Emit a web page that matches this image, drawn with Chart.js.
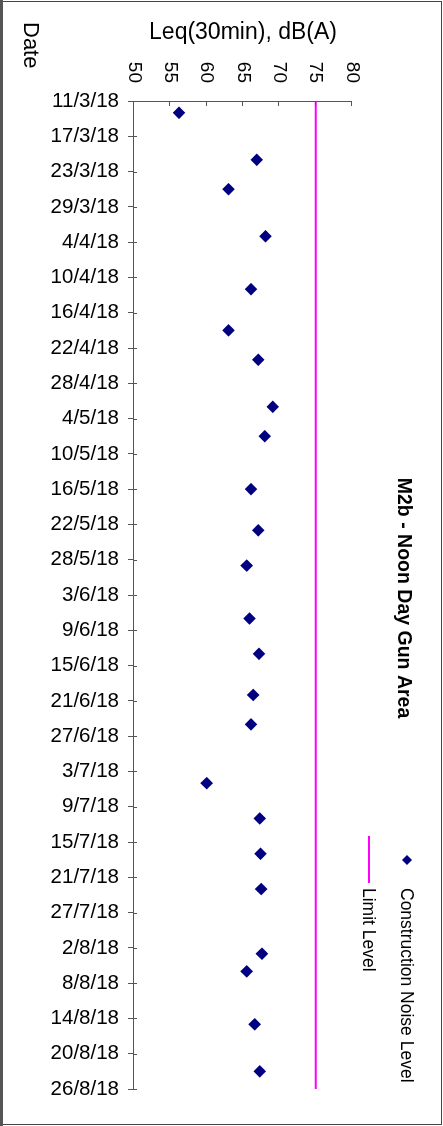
<!DOCTYPE html>
<html>
<head>
<meta charset="utf-8">
<script src="https://cdn.jsdelivr.net/npm/chart.js@4.4.1/dist/chart.umd.min.js"></script>
<style>
  html, body { margin: 0; padding: 0; background: #fff; overflow: hidden; }
  /* chart is drawn landscape, then turned a quarter clockwise */
  #wrap {
    position: absolute; left: 0; top: 0;
    width: 1126px; height: 443px;
    transform-origin: 0 0;
    transform: translate(443px, 0) rotate(90deg);
  }
</style>
</head>
<body>
<div id="wrap"><canvas id="chart" width="1126" height="443"></canvas></div>
<script>
// DATA
const dateTicks = ["11/3/18", "17/3/18", "23/3/18", "29/3/18", "4/4/18", "10/4/18", "16/4/18",
    "22/4/18", "28/4/18", "4/5/18", "10/5/18", "16/5/18", "22/5/18", "28/5/18", "3/6/18",
    "9/6/18", "15/6/18", "21/6/18", "27/6/18", "3/7/18", "9/7/18", "15/7/18", "21/7/18",
    "27/7/18", "2/8/18", "8/8/18", "14/8/18", "20/8/18", "26/8/18"];
const valueTicks = [50, 55, 60, 65, 70, 75, 80];

const noiseDates = ["13/3/18", "21/3/18", "26/3/18", "3/4/18", "12/4/18", "19/4/18", "24/4/18",
    "2/5/18", "7/5/18", "16/5/18", "23/5/18", "29/5/18", "7/6/18", "13/6/18", "20/6/18",
    "25/6/18", "5/7/18", "11/7/18", "17/7/18", "23/7/18", "3/8/18", "6/8/18", "15/8/18", "23/8/18"];
const noiseLevels = [56.2, 66.9, 63.0, 68.1, 66.1, 63.0, 67.1, 69.1, 68.0, 66.1, 67.1, 65.5,
    65.9, 67.2, 66.4, 66.1, 60.0, 67.3, 67.4, 67.5, 67.6, 65.5, 66.6, 67.3];
const limitLevel = 75;

const FONT = "'Liberation Sans', Arial, sans-serif";

// day offset from the first tick date
function dayNum(s) {
    const [d, m, y] = s.split("/").map(Number);
    return Date.UTC(2000 + y, m - 1, d) / 86400000;
}
const day0 = dayNum(dateTicks[0]);
const lastDay = dayNum(dateTicks[dateTicks.length - 1]) - day0;

const noisePoints = noiseDates.map((s, i) => ({ x: dayNum(s) - day0, y: noiseLevels[i] }));
const limitPoints = [{ x: 0, y: limitLevel }, { x: lastDay, y: limitLevel }];

// PLUGIN: frame, inward tick marks, title, legend, "Date"
const extras = {
    id: "extras",
    beforeDraw(chart) {
        const ctx = chart.ctx;
        ctx.save();
        ctx.fillStyle = "#fff";
        ctx.fillRect(0, 0, chart.width, chart.height);
        ctx.restore();
    },
    afterDraw(chart) {
        const ctx = chart.ctx;
        const xs = chart.scales.x;
        const ys = chart.scales.y;
        const area = chart.chartArea;
        ctx.save();

        // frame
        ctx.strokeStyle = "#444";
        ctx.lineWidth = 1;
        ctx.strokeRect(1.5, 1.5, chart.width - 3, chart.height - 4);
        ctx.fillStyle = "#555";
        ctx.fillRect(0, chart.height - 3, chart.width, 3);

        // small inward parts of tick marks
        ctx.strokeStyle = "#555";
        ctx.beginPath();
        xs.ticks.forEach(t => {
            const px = Math.round(xs.getPixelForValue(t.value)) + 0.5;
            ctx.moveTo(px, area.bottom);
            ctx.lineTo(px, area.bottom - 3);
        });
        ys.ticks.forEach(t => {
            const py = Math.round(ys.getPixelForValue(t.value)) + 0.5;
            ctx.moveTo(area.left, py);
            ctx.lineTo(area.left + 5, py);
        });
        ctx.stroke();

        // title
        ctx.fillStyle = "#000";
        ctx.textBaseline = "middle";
        ctx.textAlign = "center";
        ctx.font = "bold 19.5px " + FONT;
        ctx.fillText("M2b - Noon Day Gun Area", 598, 40);

        // legend
        ctx.fillStyle = "#000080";
        ctx.beginPath();
        ctx.moveTo(855, 36); ctx.lineTo(860, 31); ctx.lineTo(865, 36); ctx.lineTo(860, 41);
        ctx.closePath();
        ctx.fill();
        ctx.strokeStyle = "#ff00ff";
        ctx.lineWidth = 2;
        ctx.beginPath();
        ctx.moveTo(836, 74); ctx.lineTo(883, 74);
        ctx.stroke();

        ctx.fillStyle = "#000";
        ctx.font = "17.5px " + FONT;
        ctx.textAlign = "left";
        ctx.fillText("Construction Noise Level", 888, 37);
        ctx.fillText("Limit Level", 888, 75);

        ctx.font = "22px " + FONT;
        ctx.fillText("Date", 22, 413);
        ctx.restore();
    }
};

new Chart(document.getElementById("chart"), {
    type: "scatter",
    data: {
        datasets: [{
            label: "Construction Noise Level",
            data: noisePoints,
            pointStyle: "rectRot",
            pointRadius: 6.3,
            pointHoverRadius: 6.3,
            backgroundColor: "#000080",
            borderColor: "#000080",
            borderWidth: 0
        }, {
            type: "line",
            label: "Limit Level",
            data: limitPoints,
            borderColor: "#ff00ff",
            borderWidth: 2,
            pointRadius: 0,
            fill: false
        }]
    },
    options: {
        responsive: false,
        animation: false,
        devicePixelRatio: 1,
        layout: { padding: { top: 91, right: 37, left: 0, bottom: 0 } },
        plugins: {
            legend: { display: false },
            tooltip: { enabled: false },
            title: { display: false }
        },
        scales: {
            x: {
                type: "linear",
                min: 0,
                max: lastDay,
                afterFit: s => { s.height = 134; },
                border: { display: true, color: "#555", width: 1 },
                grid: { display: true, drawOnChartArea: false, tickLength: 6, color: "#555" },
                ticks: {
                    stepSize: 6,
                    autoSkip: false,
                    maxRotation: 90,
                    minRotation: 90,
                    padding: 9,
                    color: "#000",
                    font: { family: FONT, size: 20.5 },
                    callback: (v, i) => dateTicks[i]
                }
            },
            y: {
                min: valueTicks[0],
                max: valueTicks[valueTicks.length - 1],
                afterFit: s => { s.width = 101; },
                border: { display: true, color: "#555", width: 1 },
                grid: { display: true, drawOnChartArea: false, drawTicks: false },
                title: {
                    display: true,
                    text: "Leq(30min), dB(A)",
                    color: "#000",
                    font: { family: FONT, size: 23 },
                    padding: { top: 19 }
                },
                ticks: {
                    stepSize: 5,
                    padding: 18,
                    color: "#000",
                    font: { family: FONT, size: 19 }
                }
            }
        }
    },
    plugins: [extras]
});
</script>
</body>
</html>
